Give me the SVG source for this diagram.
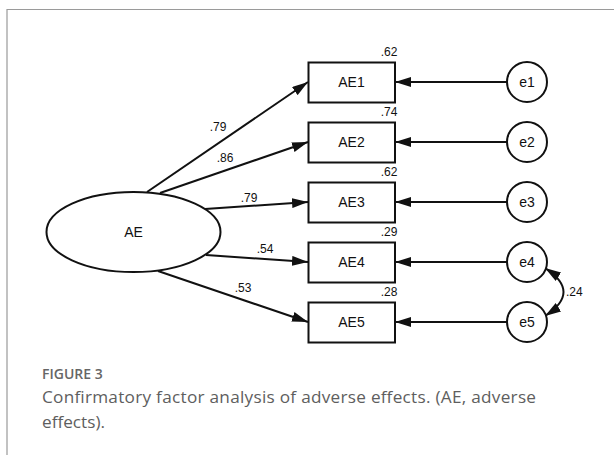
<svg xmlns="http://www.w3.org/2000/svg" width="614" height="455" viewBox="0 0 614 455">
  <style>
    .box { fill: #fff; stroke: #111; stroke-width: 2; }
    .lat { fill: #fff; stroke: #111; stroke-width: 2; }
    .lbl { font-family: "Liberation Sans", Arial, sans-serif; font-size: 14px; fill: #111; text-anchor: middle; }
    .num { font-family: "Liberation Sans", Arial, sans-serif; font-size: 12px; fill: #111; }
    .edge { fill: none; stroke: #111; stroke-width: 2; }
    .cap-h { font-family: "Open Sans", "Noto Sans", sans-serif; font-size: 14px; font-weight: 600; fill: #666; }
    .cap { font-family: "Open Sans", "Noto Sans", sans-serif; font-size: 17.2px; fill: #5e5e5e; }
  </style>
  <defs>
    <marker id="arrow" viewBox="0 0 16 10" refX="16" refY="5" markerWidth="16" markerHeight="10" markerUnits="userSpaceOnUse" orient="auto-start-reverse">
      <path d="M0,0 L16,5 L0,10 Z" fill="#111"/>
    </marker>
  </defs>

  <!-- frame -->
  <path d="M7,455 V9.5 H614" fill="none" stroke="#9a9a9a" stroke-width="1.2"/>

  <!-- connectors -->
  <g id="connectors">
    <line class="edge" x1="147" y1="192" x2="308" y2="82" marker-end="url(#arrow)"/>
    <line class="edge" x1="160" y1="193" x2="308" y2="142" marker-end="url(#arrow)"/>
    <line class="edge" x1="205" y1="209" x2="308" y2="202" marker-end="url(#arrow)"/>
    <line class="edge" x1="206" y1="255" x2="308" y2="262" marker-end="url(#arrow)"/>
    <line class="edge" x1="158" y1="271" x2="308" y2="322" marker-end="url(#arrow)"/>

    <line class="edge" x1="507" y1="82" x2="395" y2="82" marker-end="url(#arrow)"/>
    <line class="edge" x1="507" y1="142" x2="395" y2="142" marker-end="url(#arrow)"/>
    <line class="edge" x1="507" y1="202" x2="395" y2="202" marker-end="url(#arrow)"/>
    <line class="edge" x1="507" y1="262" x2="395" y2="262" marker-end="url(#arrow)"/>
    <line class="edge" x1="507" y1="322" x2="395" y2="322" marker-end="url(#arrow)"/>

    <path class="edge" d="M545,268 Q582,292 545,316" marker-start="url(#arrow)" marker-end="url(#arrow)"/>

    <text class="num" x="218" y="131" text-anchor="middle">.79</text>
    <text class="num" x="225" y="162" text-anchor="middle">.86</text>
    <text class="num" x="249" y="202" text-anchor="middle">.79</text>
    <text class="num" x="265" y="253" text-anchor="middle">.54</text>
    <text class="num" x="243" y="292" text-anchor="middle">.53</text>
    <text class="num" x="566" y="296">.24</text>
  </g>

  <g id="AE">
    <ellipse class="lat" cx="133.5" cy="232" rx="87" ry="40"/>
    <text class="lbl" x="133.5" y="237">AE</text>
  </g>

  <g id="AE1">
    <rect class="box" x="308.5" y="62.5" width="86.5" height="40"/>
    <text class="lbl" x="351.5" y="87">AE1</text>
    <text class="num" x="389" y="56" text-anchor="middle">.62</text>
  </g>
  <g id="AE2">
    <rect class="box" x="308.5" y="122.5" width="86.5" height="40"/>
    <text class="lbl" x="351.5" y="147">AE2</text>
    <text class="num" x="389" y="116" text-anchor="middle">.74</text>
  </g>
  <g id="AE3">
    <rect class="box" x="308.5" y="182.5" width="86.5" height="40"/>
    <text class="lbl" x="351.5" y="207">AE3</text>
    <text class="num" x="389" y="176" text-anchor="middle">.62</text>
  </g>
  <g id="AE4">
    <rect class="box" x="308.5" y="242.5" width="86.5" height="40"/>
    <text class="lbl" x="351.5" y="267">AE4</text>
    <text class="num" x="389" y="236" text-anchor="middle">.29</text>
  </g>
  <g id="AE5">
    <rect class="box" x="308.5" y="302.5" width="86.5" height="40"/>
    <text class="lbl" x="351.5" y="327">AE5</text>
    <text class="num" x="389" y="296" text-anchor="middle">.28</text>
  </g>

  <g id="e1">
    <circle class="lat" cx="527" cy="82" r="20"/>
    <text class="lbl" x="527" y="87">e1</text>
  </g>
  <g id="e2">
    <circle class="lat" cx="527" cy="142" r="20"/>
    <text class="lbl" x="527" y="147">e2</text>
  </g>
  <g id="e3">
    <circle class="lat" cx="527" cy="202" r="20"/>
    <text class="lbl" x="527" y="207">e3</text>
  </g>
  <g id="e4">
    <circle class="lat" cx="527" cy="262" r="20"/>
    <text class="lbl" x="527" y="267">e4</text>
  </g>
  <g id="e5">
    <circle class="lat" cx="527" cy="322" r="20"/>
    <text class="lbl" x="527" y="327">e5</text>
  </g>

  <!-- caption -->
  <text class="cap-h" x="42" y="379">FIGURE 3</text>
  <text class="cap" x="42" y="403" textLength="494" lengthAdjust="spacing">Confirmatory factor analysis of adverse effects. (AE, adverse</text>
  <text class="cap" x="42" y="428">effects).</text>
</svg>
